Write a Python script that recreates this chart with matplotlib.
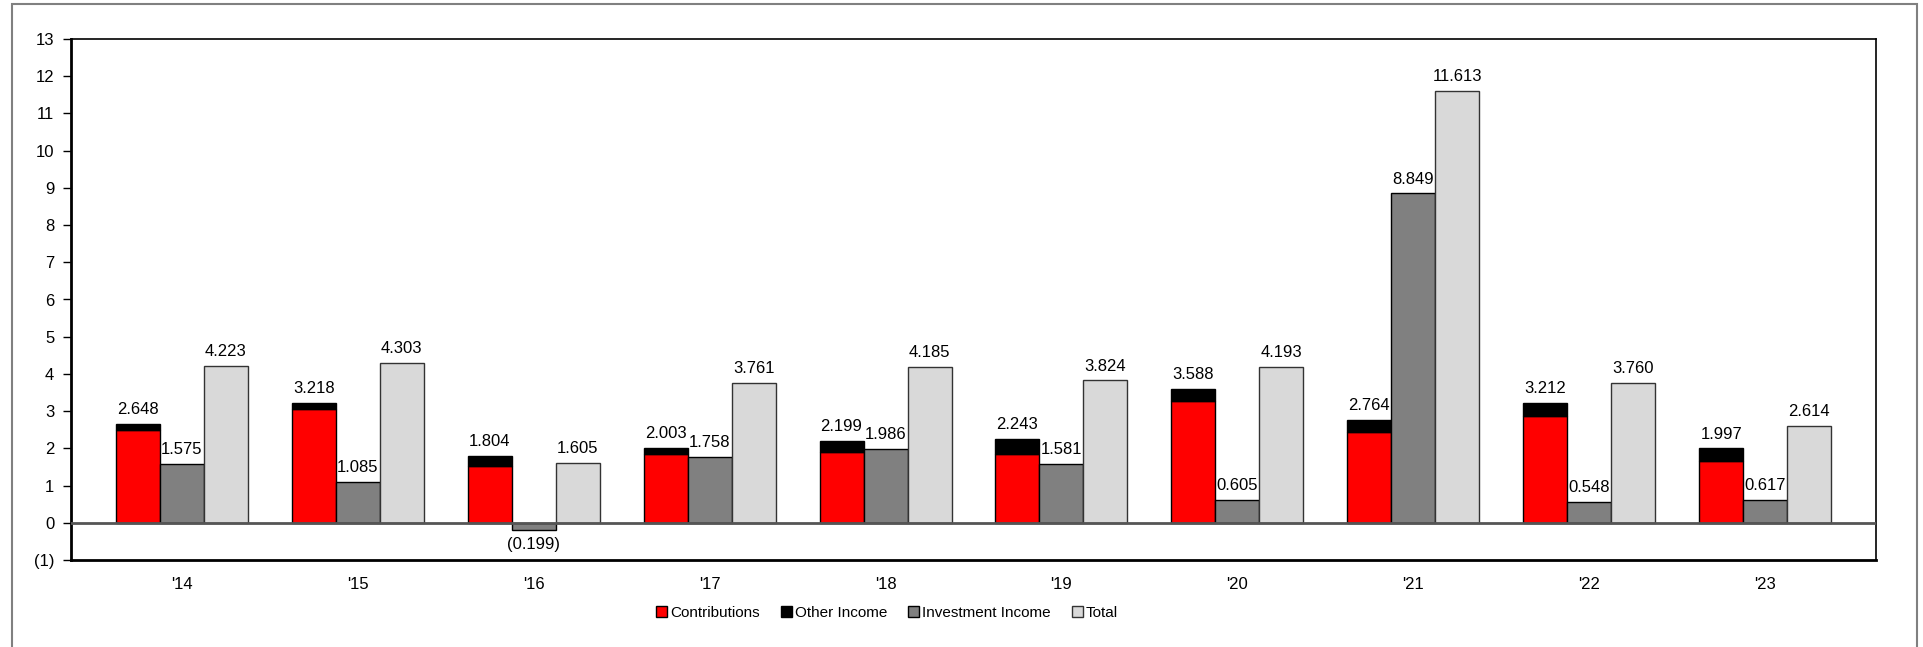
import matplotlib.pyplot as plt
import matplotlib.patches as mpatches
import numpy as np

plt.rcParams['font.family'] = ['Liberation Sans', 'DejaVu Sans']

years = ["'14", "'15", "'16", "'17", "'18", "'19", "'20", "'21", "'22", "'23"]
contributions = [2.50, 3.05, 1.53, 1.86, 1.90, 1.86, 3.27, 2.44, 2.86, 1.67]
contrib_other = [2.648, 3.218, 1.804, 2.003, 2.199, 2.243, 3.588, 2.764, 3.212, 1.997]
other_income = [round(a - b, 3) for a, b in zip(contrib_other, contributions)]
investment = [1.575, 1.085, -0.199, 1.758, 1.986, 1.581, 0.605, 8.849, 0.548, 0.617]
total = [4.223, 4.303, 1.605, 3.761, 4.185, 3.824, 4.193, 11.613, 3.760, 2.614]

fig = plt.figure(figsize=(19.23, 6.47), dpi=100)
ax = fig.add_axes([71/1923, 1-560/647, (1876-71)/1923, (560-39)/647])

x = np.arange(len(years))
w = 0.25
fs = 12

ax.bar(x - w, contributions, w, color='#FF0000', edgecolor='black', linewidth=1, label='Contributions', zorder=3)
ax.bar(x - w, other_income, w, bottom=contributions, color='black', edgecolor='black', linewidth=1, label='Other Income', zorder=3)
ax.bar(x, investment, w, color='#808080', edgecolor='black', linewidth=1, label='Investment Income', zorder=3)
ax.bar(x + w, total, w, color='#D9D9D9', edgecolor='#333333', linewidth=1, label='Total', zorder=3)

def fmt(v):
    return '({:.3f})'.format(-v) if v < 0 else '{:.3f}'.format(v)

for i in range(len(years)):
    ax.annotate(fmt(contrib_other[i]), (x[i] - w, contrib_other[i]), xytext=(0, 5), textcoords='offset points',
                ha='center', va='bottom', fontsize=fs)
    v = investment[i]
    ax.annotate(fmt(v), (x[i], v), xytext=(0, 5 if v >= 0 else -5), textcoords='offset points',
                ha='center', va='bottom' if v >= 0 else 'top', fontsize=fs)
    ax.annotate(fmt(total[i]), (x[i] + w, total[i]), xytext=(0, 5), textcoords='offset points',
                ha='center', va='bottom', fontsize=fs)

ax.axhline(0, color='#555555', linewidth=2, zorder=4)

ax.set_xlim(-0.63, 9.63)
ax.set_ylim(-1, 13)
yt = np.arange(-1, 14)
ax.set_yticks(yt)
ax.set_yticklabels(['({})'.format(-t) if t < 0 else str(t) for t in yt], fontsize=fs)
ax.set_xticks(x)
ax.set_xticklabels(years, fontsize=fs)
ax.tick_params(axis='x', length=0, pad=12)
ax.tick_params(axis='y', length=6, width=1, pad=6)

for s in ['top', 'right']:
    ax.spines[s].set_linewidth(1.2)
    ax.spines[s].set_color('black')
ax.spines['left'].set_linewidth(2)
ax.spines['bottom'].set_linewidth(2)

fig.legend(loc='center', bbox_to_anchor=(887/1923, 1-613/647), ncol=4, frameon=False, fontsize=11,
           handlelength=0.7, handleheight=0.7, handletextpad=0.2, columnspacing=1.4)

frame = mpatches.Rectangle((12/1923, -0.1), (1917-12)/1923, 1.1 - 4/647, transform=fig.transFigure,
                           fill=False, edgecolor='#808080', linewidth=1.5, clip_on=False)
fig.patches.append(frame)

fig.savefig('out.png', dpi=100)
